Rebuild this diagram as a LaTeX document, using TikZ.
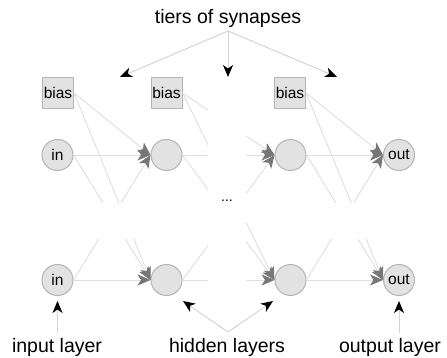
\documentclass[tikz,border=0pt]{standalone}
\usepackage{fontspec}
\setmainfont{Liberation Sans}
\usetikzlibrary{arrows.meta}
\definecolor{nodefill}{HTML}{E2E2E2}
\definecolor{nodeedge}{HTML}{B4B4B4}
\definecolor{synline}{HTML}{DEDEDE}
\definecolor{tipgray}{HTML}{767676}
\definecolor{pointerline}{HTML}{D4D4D4}
\begin{document}
\begin{tikzpicture}[x=1pt,y=-1pt,
  neuron/.style={circle, draw=nodeedge, fill=nodefill, line width=1pt,
    minimum size=31pt, inner sep=0pt, font=\fontsize{15.5}{18}\selectfont},
  biasbox/.style={rectangle, draw=nodeedge, fill=nodefill, line width=1pt,
    minimum size=31pt, inner sep=0pt, font=\fontsize{15.5}{18}\selectfont},
  synapse/.style={draw=synline, line width=0.9pt,
    -{Stealth[length=13pt,width=11pt,inset=3.5pt,color=tipgray,fill=tipgray]}},
  caption/.style={font=\fontsize{19.5}{23}\selectfont, anchor=base, inner sep=0pt},
  pointer/.style={draw=pointerline, line width=1pt,
    -{Stealth[length=12pt,width=10pt,inset=3.5pt,color=black,fill=black]}}
]
\useasboundingbox (0,0) rectangle (447,358);

% bias units
\node[biasbox] (b1) at (58,93) {bias};
\node[biasbox] (b2) at (166.5,93) {bias};
\node[biasbox] (b3) at (290,93) {bias};

% neurons: upper and lower row of each layer
\node[neuron] (in1) at (57.5,155) {in};
\node[neuron] (h1a) at (166.5,155) {};
\node[neuron] (h2a) at (290.5,155) {};
\node[neuron] (out1) at (399,155) {out};
\node[neuron] (in2) at (57.5,280) {in};
\node[neuron] (h1b) at (166.5,280) {};
\node[neuron] (h2b) at (290.5,280) {};
\node[neuron] (out2) at (399,280) {out};

\node[font=\fontsize{14}{16}\selectfont, anchor=base, inner sep=0pt] (dots) at (227,202) {...};

% synapses between input and first hidden layer (gap in the middle band)
\begin{scope}
  \clip (0,0) rectangle (447,203) (0,239) rectangle (447,358);
  \foreach \s in {in1,in2} \foreach \t in {h1a,h1b}
    \draw[synapse] (\s.east) -- (\t.west);
  \foreach \t in {h1a,h1b} \draw[synapse] (b1.east) -- (\t.west);
\end{scope}

% synapses between hidden layers (gap in the middle column)
\begin{scope}
  \clip (0,0) rectangle (208,358) (246,0) rectangle (447,358);
  \foreach \s in {h1a,h1b} \foreach \t in {h2a,h2b}
    \draw[synapse] (\s.east) -- (\t.west);
  \foreach \t in {h2a,h2b} \draw[synapse] (b2.east) -- (\t.west);
\end{scope}

% synapses between last hidden layer and output layer
\begin{scope}
  \clip (0,0) rectangle (447,203) (0,239) rectangle (447,358);
  \foreach \s in {h2a,h2b} \foreach \t in {out1,out2}
    \draw[synapse] (\s.east) -- (\t.west);
  \foreach \t in {out1,out2} \draw[synapse] (b3.east) -- (\t.west);
\end{scope}

% caption on top
\node[caption] (tiers) at (228,24) {tiers of synapses};
\coordinate (tfork) at (228,31);
\coordinate (t1) at (120,77);
\coordinate (t2) at (228,77);
\coordinate (t3) at (337,77);
\foreach \t in {t1,t2,t3} \draw[pointer] (tfork) -- (\t);

% captions below
\node[caption] (inlab) at (57,352) {input layer};
\node[caption] (hidlab) at (227,352) {hidden layers};
\node[caption] (outlab) at (390,352) {output layer};
\coordinate (infoot) at (57.5,333);
\coordinate (intip) at (57.5,301);
\coordinate (hfork) at (228,332);
\coordinate (outfoot) at (399,333);
\coordinate (outtip) at (399,301);
\coordinate (h1tip) at (183,301);
\coordinate (h2tip) at (273,301);
\draw[pointer] (infoot) -- (intip);
\draw[pointer] (hfork) -- (h1tip);
\draw[pointer] (hfork) -- (h2tip);
\draw[pointer] (outfoot) -- (outtip);
\end{tikzpicture}
\end{document}
